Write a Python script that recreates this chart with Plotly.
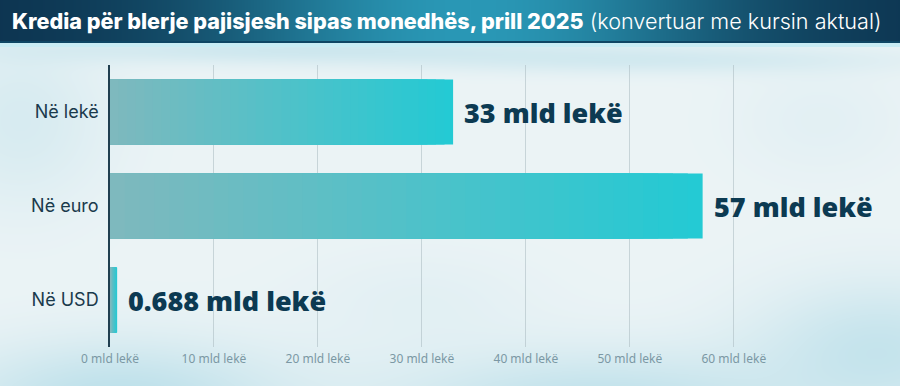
import base64, struct, zlib
import numpy as np
import plotly.graph_objects as go

# ---------------- data ----------------
categories = ["Në lekë", "Në euro", "Në USD"]
values = [33, 57, 0.688]
value_labels = ["33 mld lekë", "57 mld lekë", "0.688 mld lekë"]
tick_vals = [0, 10, 20, 30, 40, 50, 60]
tick_text = [f"{v} mld lekë" for v in tick_vals]
title_bold = "Kredia për blerje pajisjesh sipas monedhës, prill 2025"
title_light = "(konvertuar me kursin aktual)"

W, H = 900, 386
ML, MR, MT, MB = 110, 83, 65, 39

# ---------------- background image (blurred look) ----------------
def png_data_uri(arr):
    h, w, _ = arr.shape
    raw = b"".join(b"\x00" + arr[y].tobytes() for y in range(h))
    def chunk(t, d):
        c = struct.pack(">I", len(d)) + t + d
        return c + struct.pack(">I", zlib.crc32(t + d) & 0xffffffff)
    png = b"\x89PNG\r\n\x1a\n" + chunk(b"IHDR", struct.pack(">IIBBBBB", w, h, 8, 2, 0, 0, 0)) \
        + chunk(b"IDAT", zlib.compress(raw, 9)) + chunk(b"IEND", b"")
    return "data:image/png;base64," + base64.b64encode(png).decode()

yy, xx = np.mgrid[0:H, 0:W].astype(float)
base = np.array([236, 244, 246], float)
img = np.ones((H, W, 3)) * base
blue = np.array([178, 220, 232], float)
blobs = [(120, 400, 170, 60, 0.8), (600, 405, 220, 55, 0.75), (880, 350, 130, 70, 0.65),
         (20, 120, 90, 90, 0.35), (300, 50, 300, 14, 0.5), (650, 60, 250, 14, 0.4),
         (420, 300, 120, 50, 0.15), (820, 120, 90, 60, 0.15)]
for cx, cy, sx, sy, a in blobs:
    g = a * np.exp(-(((xx - cx) / sx) ** 2 + ((yy - cy) / sy) ** 2))
    img = img * (1 - g[..., None]) + blue * g[..., None]
# title bar
xs = np.arange(W)
t = np.exp(-((xs - 470) / 260.0) ** 2)
dark = np.array([12, 50, 78], float)
light = np.array([42, 152, 182], float)
row = dark * (1 - t[:, None]) + light * t[:, None]
img[0:41] = row[None, :, :]
img[41:43] = np.array([14, 70, 100], float)
img[43:47] = np.array([200, 236, 244], float)
bg_uri = png_data_uri(np.clip(img, 0, 255).astype(np.uint8))

# ---------------- bars with horizontal gradient ----------------
N = 40
c0 = np.array([126, 185, 190])
c1 = np.array([36, 202, 212])
fig = go.Figure()
for i in range(N - 1, -1, -1):
    f = i / (N - 1)
    col = (c0 * (1 - f) + c1 * f).astype(int)
    fig.add_trace(go.Bar(
        y=categories,
        x=[v * (i + 1) / N for v in values],
        orientation="h",
        width=0.69,
        marker=dict(color=f"rgb({col[0]},{col[1]},{col[2]})", line=dict(width=0)),
        hoverinfo="skip",
        showlegend=False,
    ))

for cat, v, lab in zip(categories, values, value_labels):
    fig.add_annotation(x=v, y=cat, xref="x", yref="y", text=lab, showarrow=False,
                       xanchor="left", xshift=9,
                       font=dict(family="Noto Sans", size=27, color="#0c3a52", weight=900))

pw, ph = W - ML - MR, H - MT - MB
fig.add_annotation(
    xref="paper", yref="paper", x=-100 / pw, y=1 + 44 / ph,
    xanchor="left", yanchor="middle", showarrow=False,
    text=f"<span style='font-weight:800'>{title_bold}</span> <span style='font-weight:300'>{title_light}</span>",
    font=dict(family="Inter", size=21.6, color="white"),
)

fig.add_layout_image(dict(source=bg_uri, xref="paper", yref="paper",
                          x=-ML / pw, y=1 + MT / ph, sizex=W / pw, sizey=H / ph,
                          xanchor="left", yanchor="top", sizing="stretch", layer="below"))

fig.update_layout(
    width=W, height=H,
    margin=dict(l=ML, r=MR, t=MT, b=MB),
    paper_bgcolor="#ecf4f6", plot_bgcolor="rgba(0,0,0,0)",
    barmode="overlay",
    xaxis=dict(range=[0, 68], tickvals=tick_vals, ticktext=tick_text,
               showgrid=True, gridcolor="rgba(170,185,192,0.55)", gridwidth=1,
               zeroline=False, showline=False, ticks="", ticklabelstandoff=3,
               tickfont=dict(family="Noto Sans", size=12, color="#7b98a4")),
    yaxis=dict(categoryorder="array", categoryarray=categories, autorange="reversed",
               showline=True, linecolor="#203f50", linewidth=1.5, showgrid=False,
               ticks="", ticklabelstandoff=6,
               tickfont=dict(family="Inter", size=18, color="#1a3a4c")),
)
fig.update_traces(cliponaxis=False)

fig.write_html("out.html", config={"displayModeBar": False},
               post_script="document.body.style.margin='0';document.body.style.overflow='hidden';")
